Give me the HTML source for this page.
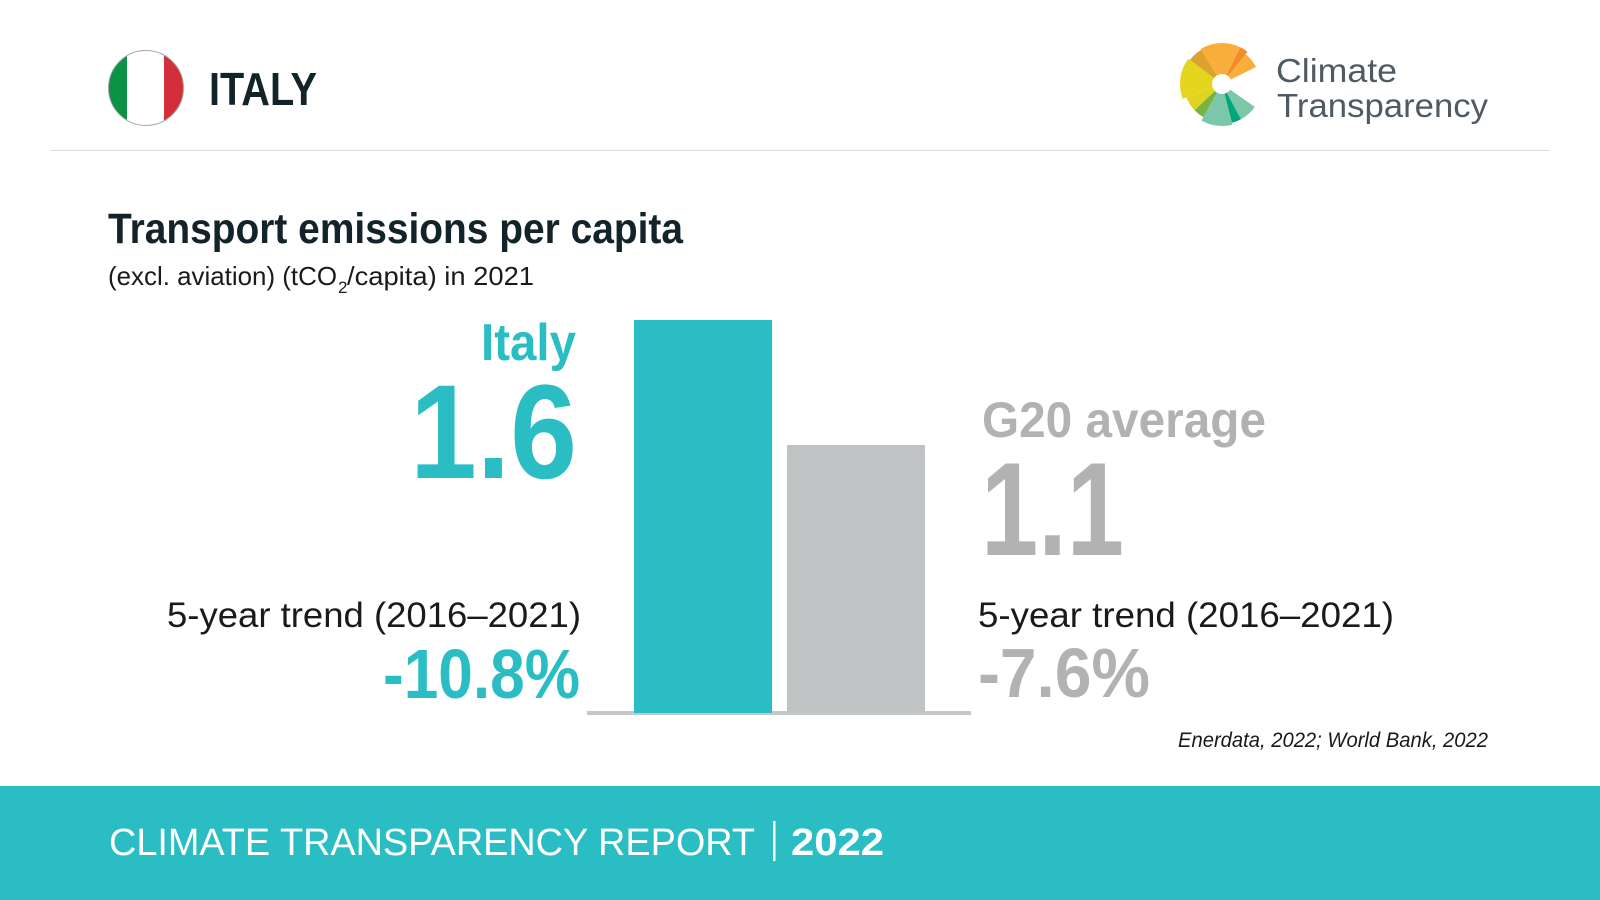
<!DOCTYPE html>
<html>
<head>
<meta charset="utf-8">
<style>
  html,body{margin:0;padding:0;background:#ffffff;}
  body{width:1600px;height:900px;overflow:hidden;}
  svg{display:block;}
  text{font-family:"Liberation Sans", Arial, sans-serif;}
</style>
</head>
<body>
<svg width="1600" height="900" viewBox="0 0 1600 900" xmlns="http://www.w3.org/2000/svg">
  <defs>
    <clipPath id="flagclip"><circle cx="146" cy="88" r="37.5"/></clipPath>
  </defs>
  <rect x="0" y="0" width="1600" height="900" fill="#ffffff"/>

  <!-- Flag -->
  <g clip-path="url(#flagclip)">
    <rect x="100" y="45" width="27" height="90" fill="#0b9247"/>
    <rect x="127" y="45" width="37" height="90" fill="#ffffff"/>
    <rect x="164" y="45" width="30" height="90" fill="#d22f3b"/>
  </g>
  <circle cx="146" cy="88" r="37.5" fill="none" stroke="#a8a8a8" stroke-width="1"/>

  <text x="209" y="105" font-size="46" font-weight="bold" fill="#13232a" textLength="108" lengthAdjust="spacingAndGlyphs">ITALY</text>

  <!-- Logo -->
  <g fill="none">
    <circle cx="1222" cy="84" r="25" stroke="#7cc7aa" stroke-width="30" pathLength="360" stroke-dasharray="27 400" stroke-dashoffset="-35"/>
    <circle cx="1222" cy="84" r="25" stroke="#00a67c" stroke-width="30" pathLength="360" stroke-dasharray="14 400" stroke-dashoffset="-62"/>
    <circle cx="1222" cy="84" r="26" stroke="#7cc7aa" stroke-width="32" pathLength="360" stroke-dasharray="44 400" stroke-dashoffset="-76"/>
    <circle cx="1222" cy="84" r="24" stroke="#78b444" stroke-width="28" pathLength="360" stroke-dasharray="17 400" stroke-dashoffset="-120"/>
    <circle cx="1222" cy="84" r="24" stroke="#e0d421" stroke-width="28" pathLength="360" stroke-dasharray="23 400" stroke-dashoffset="-137"/>
    <circle cx="1222" cy="84" r="26" stroke="#e4d61e" stroke-width="32" pathLength="360" stroke-dasharray="58 400" stroke-dashoffset="-160"/>
    <circle cx="1222" cy="84" r="25" stroke="#dba22d" stroke-width="30" pathLength="360" stroke-dasharray="22 400" stroke-dashoffset="-218"/>
    <circle cx="1222" cy="84" r="25.5" stroke="#f9ad3a" stroke-width="31" pathLength="360" stroke-dasharray="58 400" stroke-dashoffset="-240"/>
    <circle cx="1222" cy="84" r="25.5" stroke="#f18d26" stroke-width="31" pathLength="360" stroke-dasharray="12 400" stroke-dashoffset="-298"/>
    <circle cx="1222" cy="84" r="24" stroke="#f9ad3a" stroke-width="28" pathLength="360" stroke-dasharray="25 400" stroke-dashoffset="-310"/>
  </g>
  <text x="1276" y="82" font-size="33" fill="#4f5b62" textLength="121" lengthAdjust="spacingAndGlyphs">Climate</text>
  <text x="1277" y="117" font-size="33" fill="#4f5b62" textLength="211" lengthAdjust="spacingAndGlyphs">Transparency</text>

  <!-- Separator -->
  <rect x="50" y="150" width="1500" height="1" fill="#dcdcdc"/>

  <!-- Title -->
  <text x="108" y="243" font-size="43" font-weight="bold" fill="#13232a" textLength="575" lengthAdjust="spacingAndGlyphs">Transport emissions per capita</text>
  <text x="108" y="285" font-size="26" fill="#1a1a1a" textLength="229" lengthAdjust="spacingAndGlyphs">(excl. aviation) (tCO</text>
  <text x="338" y="293" font-size="17" fill="#1a1a1a">2</text>
  <text x="347" y="285" font-size="26" fill="#1a1a1a" textLength="187" lengthAdjust="spacingAndGlyphs">/capita) in 2021</text>

  <!-- Left labels -->
  <text x="481" y="360" font-size="52" font-weight="bold" fill="#2bbdc4" textLength="95" lengthAdjust="spacingAndGlyphs">Italy</text>
  <text x="410" y="478" font-size="134" font-weight="bold" fill="#2bbdc4" textLength="167" lengthAdjust="spacingAndGlyphs">1.6</text>
  <text x="167" y="627" font-size="35" fill="#1a1a1a" textLength="414" lengthAdjust="spacingAndGlyphs">5-year trend (2016–2021)</text>
  <text x="383" y="698" font-size="70" font-weight="bold" fill="#2bbdc4" textLength="197" lengthAdjust="spacingAndGlyphs">-10.8%</text>

  <!-- Bars -->
  <rect x="587" y="711" width="384" height="4" fill="#c6c8c8"/>
  <rect x="634" y="320" width="138" height="393" fill="#2abdc3"/>
  <rect x="787" y="445" width="138" height="268" fill="#bfc3c3"/>

  <!-- Right labels -->
  <text x="982" y="437" font-size="50" font-weight="bold" fill="#b1b2b1" textLength="284" lengthAdjust="spacingAndGlyphs">G20 average</text>
  <text x="981" y="555" font-size="133" font-weight="bold" fill="#b1b2b1" textLength="143" lengthAdjust="spacingAndGlyphs">1.1</text>
  <text x="978" y="627" font-size="35" fill="#1a1a1a" textLength="416" lengthAdjust="spacingAndGlyphs">5-year trend (2016–2021)</text>
  <text x="978" y="697" font-size="70" font-weight="bold" fill="#b1b2b1" textLength="172" lengthAdjust="spacingAndGlyphs">-7.6%</text>

  <!-- Source -->
  <text x="1178" y="747" font-size="21" font-style="italic" fill="#1a1a1a" textLength="310" lengthAdjust="spacingAndGlyphs">Enerdata, 2022; World Bank, 2022</text>

  <!-- Footer -->
  <rect x="0" y="786" width="1600" height="114" fill="#2abdc3"/>
  <text x="109" y="855" font-size="38" fill="#ffffff" textLength="646" lengthAdjust="spacingAndGlyphs">CLIMATE TRANSPARENCY REPORT</text>
  <rect x="773" y="821" width="2.5" height="40" fill="#ffffff"/>
  <text x="791" y="855" font-size="38" font-weight="bold" fill="#ffffff" textLength="93" lengthAdjust="spacingAndGlyphs">2022</text>
</svg>
</body>
</html>
